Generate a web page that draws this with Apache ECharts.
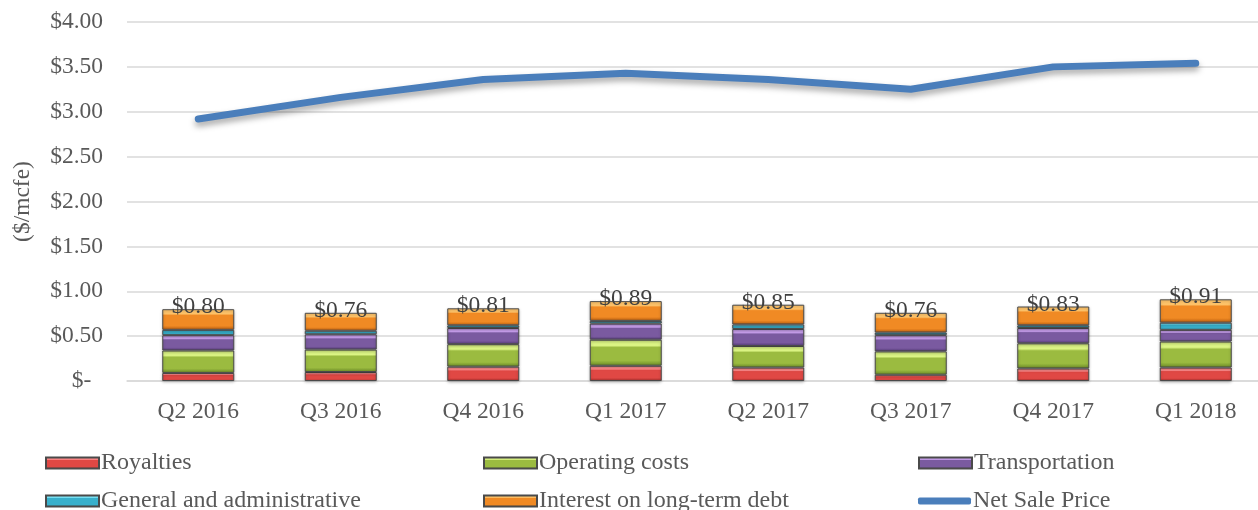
<!DOCTYPE html>
<html>
<head>
<meta charset="utf-8">
<title>Cost structure vs net sale price</title>
<script src="https://cdn.jsdelivr.net/npm/echarts@6/dist/echarts.min.js"></script>
<style>
  html, body { margin: 0; padding: 0; background: #ffffff; }
  #chart { width: 1258px; height: 510px; }
</style>
</head>
<body>
<div id="chart"></div>
<script>
// quarters on the x axis
const quarters = ['Q2 2016', 'Q3 2016', 'Q4 2016', 'Q1 2017', 'Q2 2017', 'Q3 2017', 'Q4 2017', 'Q1 2018'];

// cost components ($/mcfe)
const royalties      = [0.09, 0.10, 0.16, 0.17, 0.15, 0.07, 0.14, 0.15];
const operatingCosts = [0.25, 0.25, 0.25, 0.29, 0.24, 0.26, 0.28, 0.29];
const transportation = [0.17, 0.17, 0.18, 0.18, 0.19, 0.18, 0.17, 0.13];
const generalAdmin   = [0.06, 0.04, 0.03, 0.03, 0.05, 0.03, 0.03, 0.08];
const interestDebt   = [0.23, 0.20, 0.19, 0.22, 0.22, 0.22, 0.21, 0.26];

// totals printed above each bar
const totalCosts = [0.80, 0.76, 0.81, 0.89, 0.85, 0.76, 0.83, 0.91];

// net sale price line
const netSalePrice = [2.92, 3.16, 3.36, 3.43, 3.36, 3.25, 3.50, 3.54];

// y axis ticks
const yMin = 0;
const yMax = 4;
const yStep = 0.5;

const FONT = "'Liberation Serif', 'Times New Roman', serif";
const FONT_SIZE = 23.5;
const TEXT_COLOR = '#595959';

// excel-ish bevel: light top edge, solid body, darker bottom
function bevel(light, mid, dark) {
  return new echarts.graphic.LinearGradient(0, 0, 0, 1, [
    { offset: 0, color: light },
    { offset: 0.22, color: light },
    { offset: 0.3, color: mid },
    { offset: 0.8, color: mid },
    { offset: 1, color: dark }
  ]);
}

function costSeries(name, data, colors) {
  return {
    name: name,
    type: 'bar',
    stack: 'cost',
    barWidth: 72,
    data: data,
    itemStyle: {
      color: bevel(colors[0], colors[1], colors[2]),
      borderColor: '#4a4a4a',
      borderWidth: 1,
      shadowColor: 'rgba(0, 0, 0, 0.25)',
      shadowBlur: 3,
      shadowOffsetY: 1
    },
    emphasis: { disabled: true }
  };
}

const series = [
  costSeries('Royalties', royalties, ['#ff8a8a', '#e04844', '#9c2a28']),
  costSeries('Operating costs', operatingCosts, ['#dcf585', '#9bbb40', '#6b8a26']),
  costSeries('Transportation', transportation, ['#c9a0ee', '#7a5aa0', '#553a78']),
  costSeries('General and administrative', generalAdmin, ['#7fe6f8', '#38b0cc', '#257d94']),
  costSeries('Interest on long-term debt', interestDebt, ['#ffc46a', '#f08a24', '#bb5e10'])
];

// total label sits on the top segment
series[4].label = {
  show: true,
  position: 'top',
  distance: -10,
  fontFamily: FONT,
  fontSize: FONT_SIZE,
  color: '#404040',
  formatter: p => '$' + totalCosts[p.dataIndex].toFixed(2)
};

series.push({
  name: 'Net Sale Price',
  type: 'line',
  data: netSalePrice,
  showSymbol: false,
  symbol: 'none',
  lineStyle: {
    color: '#4a7ebb',
    width: 7,
    cap: 'round',
    join: 'round',
    shadowColor: 'rgba(0, 0, 0, 0.35)',
    shadowBlur: 6,
    shadowOffsetY: 4
  },
  itemStyle: { color: '#4a7ebb' },
  emphasis: { disabled: true },
  z: 5
});

// one legend per entry so the 3x2 grid lines up like the original
const legendSpots = [
  { name: 'Royalties', left: 45, top: 451 },
  { name: 'Operating costs', left: 483, top: 451 },
  { name: 'Transportation', left: 918, top: 451 },
  { name: 'General and administrative', left: 45, top: 489 },
  { name: 'Interest on long-term debt', left: 483, top: 489 },
  { name: 'Net Sale Price', left: 918, top: 489 }
];

const legends = legendSpots.map(spot => {
  const isLine = spot.name === 'Net Sale Price';
  return {
    data: [isLine ? { name: spot.name, icon: 'roundRect' } : { name: spot.name, icon: 'rect' }],
    left: spot.left,
    top: spot.top,
    padding: 0,
    itemWidth: 53,
    itemHeight: isLine ? 7 : 11,
    itemGap: 0,
    selectedMode: false,
    textStyle: {
      fontFamily: FONT,
      fontSize: 24,
      color: TEXT_COLOR,
      padding: [0, 0, 0, -3]
    }
  };
});

const chart = echarts.init(document.getElementById('chart'), null, { renderer: 'canvas' });

chart.setOption({
  animation: false,
  backgroundColor: '#ffffff',
  legend: legends,
  grid: {
    left: 127,
    top: 22,
    width: 1140,
    height: 359,
    containLabel: false,
    outerBoundsMode: 'none'
  },
  xAxis: {
    type: 'category',
    data: quarters,
    axisTick: { show: false },
    axisLine: { lineStyle: { color: '#d9d9d9', width: 1.5 } },
    axisLabel: {
      margin: 19,
      fontFamily: FONT,
      fontSize: FONT_SIZE,
      color: TEXT_COLOR
    }
  },
  yAxis: {
    type: 'value',
    min: yMin,
    max: yMax,
    interval: yStep,
    name: '($/mcfe)',
    nameLocation: 'middle',
    nameGap: 92,
    nameTextStyle: {
      fontFamily: FONT,
      fontSize: FONT_SIZE,
      color: TEXT_COLOR
    },
    axisLine: { show: false },
    axisTick: { show: false },
    splitLine: { lineStyle: { color: '#d9d9d9', width: 1.5 } },
    axisLabel: {
      margin: 24,
      fontFamily: FONT,
      fontSize: FONT_SIZE,
      color: TEXT_COLOR,
      formatter: v => (v === 0 ? '$-  ' : '$' + v.toFixed(2))
    }
  },
  series: series
});
</script>
</body>
</html>
